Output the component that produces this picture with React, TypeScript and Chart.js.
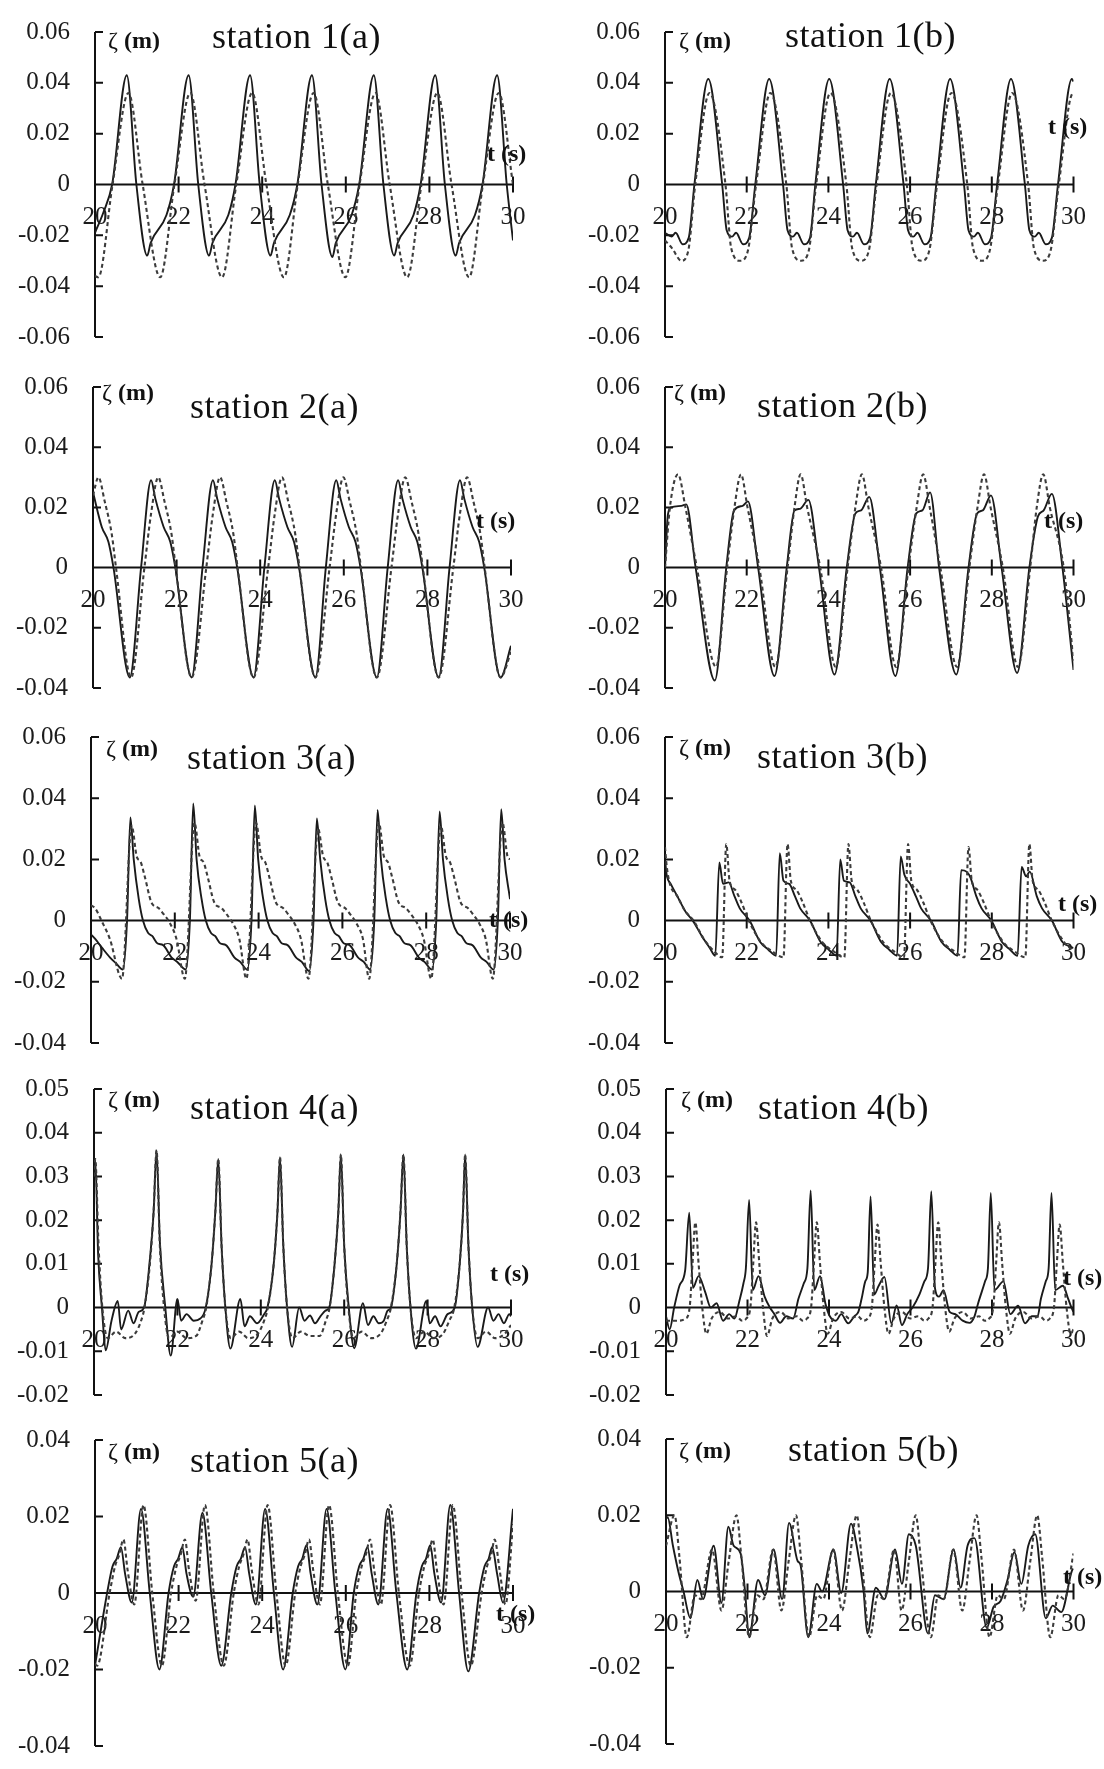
import React, { useEffect, useRef } from 'react';
import { Chart, registerables } from 'chart.js';
Chart.register(...registerables);

type Pt = [number, number];

// ---------- tick values ----------
const xTicks = [20, 22, 24, 26, 28, 30];
const yTicksRow1 = [-0.06, -0.04, -0.02, 0, 0.02, 0.04, 0.06];
const yTicksRow23 = [-0.04, -0.02, 0, 0.02, 0.04, 0.06];
const yTicksRow4 = [-0.02, -0.01, 0, 0.01, 0.02, 0.03, 0.04, 0.05];
const yTicksRow5 = [-0.04, -0.02, 0, 0.02, 0.04];

// ---------- station 1 ----------
const s1aSolid: Pt[] = [[20.0,-0.019],[20.2,-0.011],[20.41,0],[20.76,0.043],[20.99,0],[21.25,-0.028],[21.33,-0.023],[21.71,-0.012],[21.89,0],[22.24,0.043],[22.47,0],[22.73,-0.028],[22.81,-0.023],[23.19,-0.012],[23.36,0],[23.71,0.043],[23.94,0],[24.2,-0.028],[24.28,-0.023],[24.66,-0.012],[24.84,0],[25.19,0.043],[25.42,0],[25.68,-0.0285],[25.76,-0.023],[26.14,-0.012],[26.32,0],[26.67,0.043],[26.9,0],[27.16,-0.028],[27.24,-0.023],[27.62,-0.012],[27.79,0],[28.14,0.043],[28.37,0],[28.63,-0.028],[28.71,-0.023],[29.09,-0.012],[29.27,0],[29.62,0.043],[29.85,0],[30.0,-0.022]];
const s1aDashed: Pt[] = [[20.0,-0.036],[20.08,-0.0365],[20.42,0],[20.8,0.036],[21.14,0],[21.56,-0.0365],[21.9,0],[22.28,0.036],[22.62,0],[23.04,-0.0365],[23.38,0],[23.76,0.036],[24.1,0],[24.52,-0.0365],[24.85,0],[25.23,0.036],[25.57,0],[25.99,-0.0365],[26.33,0],[26.71,0.036],[27.05,0],[27.47,-0.0365],[27.81,0],[28.19,0.036],[28.53,0],[28.95,-0.0365],[29.28,0],[29.66,0.036],[30.0,0]];
const s1bSolid: Pt[] = [[20.0,-0.019],[20.16,-0.0205],[20.26,-0.019],[20.43,-0.0235],[20.58,-0.021],[20.72,0],[21.06,0.0415],[21.4,0],[21.51,-0.018],[21.64,-0.0205],[21.74,-0.019],[21.91,-0.0235],[22.06,-0.021],[22.21,0],[22.55,0.0415],[22.89,0],[23.0,-0.018],[23.13,-0.0205],[23.23,-0.019],[23.4,-0.0235],[23.55,-0.021],[23.68,0],[24.02,0.0415],[24.36,0],[24.47,-0.018],[24.6,-0.0205],[24.7,-0.019],[24.87,-0.0235],[25.02,-0.021],[25.16,0],[25.5,0.0415],[25.84,0],[25.95,-0.018],[26.08,-0.0205],[26.18,-0.019],[26.35,-0.0235],[26.5,-0.021],[26.64,0],[26.98,0.0415],[27.32,0],[27.43,-0.018],[27.56,-0.0205],[27.66,-0.019],[27.83,-0.0235],[27.98,-0.021],[28.13,0],[28.47,0.0415],[28.81,0],[28.92,-0.018],[29.05,-0.0205],[29.15,-0.019],[29.32,-0.0235],[29.47,-0.021],[29.62,0],[29.96,0.0415],[30.0,0.0405]];
const s1bDashed: Pt[] = [[20.0,-0.022],[20.17,-0.025],[20.4,-0.03],[20.57,-0.026],[20.74,0],[21.09,0.036],[21.48,0],[21.62,-0.025],[21.84,-0.03],[22.03,-0.026],[22.23,0],[22.58,0.036],[22.97,0],[23.11,-0.025],[23.33,-0.03],[23.52,-0.026],[23.7,0],[24.05,0.036],[24.44,0],[24.58,-0.025],[24.8,-0.03],[24.99,-0.026],[25.18,0],[25.53,0.036],[25.92,0],[26.06,-0.025],[26.28,-0.03],[26.47,-0.026],[26.66,0],[27.01,0.036],[27.4,0],[27.54,-0.025],[27.76,-0.03],[27.95,-0.026],[28.15,0],[28.5,0.036],[28.89,0],[29.03,-0.025],[29.25,-0.03],[29.44,-0.026],[29.64,0],[29.99,0.036],[30.0,0.036]];

// ---------- station 2 ----------
const s2aSolid: Pt[] = [[20.0,0.025],[20.21,0.0135],[20.37,0.0085],[20.49,0],[20.88,-0.0365],[21.15,0],[21.39,0.029],[21.49,0.023],[21.69,0.0135],[21.85,0.0085],[21.97,0],[22.36,-0.0365],[22.62,0],[22.87,0.029],[22.97,0.023],[23.17,0.0135],[23.33,0.0085],[23.45,0],[23.84,-0.0365],[24.1,0],[24.35,0.029],[24.45,0.023],[24.65,0.0135],[24.81,0.0085],[24.93,0],[25.32,-0.0365],[25.57,0],[25.82,0.029],[25.92,0.023],[26.12,0.0135],[26.28,0.0085],[26.4,0],[26.79,-0.0365],[27.05,0],[27.3,0.029],[27.4,0.023],[27.6,0.0135],[27.76,0.0085],[27.88,0],[28.27,-0.0365],[28.53,0],[28.78,0.029],[28.88,0.023],[29.08,0.0135],[29.24,0.0085],[29.36,0],[29.75,-0.0365],[30.0,-0.026]];
const s2aDashed: Pt[] = [[20.0,0.024],[20.13,0.03],[20.28,0.022],[20.45,0.011],[20.55,0],[20.91,-0.0365],[21.23,0],[21.39,0.018],[21.56,0.03],[21.71,0.022],[21.88,0.011],[21.98,0],[22.36,-0.0365],[22.71,0],[22.87,0.018],[23.04,0.03],[23.19,0.022],[23.36,0.011],[23.46,0],[23.84,-0.0365],[24.19,0],[24.35,0.018],[24.52,0.03],[24.67,0.022],[24.84,0.011],[24.94,0],[25.32,-0.0365],[25.66,0],[25.82,0.018],[25.99,0.03],[26.14,0.022],[26.31,0.011],[26.41,0],[26.79,-0.0365],[27.14,0],[27.3,0.018],[27.47,0.03],[27.62,0.022],[27.79,0.011],[27.89,0],[28.27,-0.0365],[28.62,0],[28.78,0.018],[28.95,0.03],[29.1,0.022],[29.27,0.011],[29.37,0],[29.75,-0.0365],[30.0,-0.028]];
const s2bSolid: Pt[] = [[20.0,0],[20.07,0.0175],[20.15,0.02],[20.4,0.0205],[20.52,0.021],[20.75,0],[21.22,-0.0375],[21.5,0],[21.69,0.019],[21.9,0.0205],[22.03,0.022],[22.28,0],[22.68,-0.036],[22.98,0],[23.17,0.019],[23.3,0.0195],[23.51,0.0225],[23.77,0],[24.15,-0.0355],[24.45,0],[24.66,0.018],[24.8,0.019],[25.0,0.0235],[25.26,0],[25.64,-0.036],[25.94,0],[26.15,0.018],[26.3,0.019],[26.49,0.025],[26.71,0],[27.13,-0.0355],[27.43,0],[27.64,0.018],[27.78,0.019],[27.98,0.024],[28.24,0],[28.62,-0.035],[28.92,0],[29.13,0.017],[29.27,0.019],[29.47,0.0245],[29.73,0],[30.0,-0.034]];
const s2bDashed: Pt[] = [[20.0,0],[20.12,0.02],[20.32,0.031],[20.5,0.02],[20.78,0],[21.25,-0.033],[21.52,0],[21.7,0.02],[21.86,0.031],[22.02,0.02],[22.31,0],[22.7,-0.033],[23.0,0],[23.17,0.02],[23.32,0.031],[23.48,0.02],[23.8,0],[24.18,-0.033],[24.47,0],[24.66,0.02],[24.82,0.031],[24.98,0.02],[25.29,0],[25.66,-0.033],[25.96,0],[26.16,0.02],[26.32,0.031],[26.48,0.02],[26.74,0],[27.15,-0.033],[27.45,0],[27.65,0.02],[27.81,0.031],[27.97,0.02],[28.27,0],[28.64,-0.033],[28.94,0],[29.1,0.02],[29.26,0.031],[29.42,0.02],[29.76,0],[30.0,-0.031]];

// ---------- station 3 ----------
const s3aSolid: Pt[] = [[20.0,-0.0045],[20.1,-0.006],[20.27,-0.009],[20.45,-0.012],[20.6,-0.014],[20.76,-0.016],[20.86,0],[20.94,0.0337],[21.02,0.02],[21.14,0.007],[21.24,0],[21.36,-0.004],[21.46,-0.005],[21.59,-0.0075],[21.72,-0.008],[21.92,-0.012],[22.06,-0.0135],[22.26,-0.016],[22.36,0],[22.44,0.0383],[22.52,0.02],[22.64,0.007],[22.74,0],[22.86,-0.004],[22.96,-0.005],[23.09,-0.0075],[23.22,-0.008],[23.42,-0.012],[23.56,-0.0135],[23.73,-0.016],[23.83,0],[23.91,0.0376],[23.99,0.02],[24.11,0.007],[24.21,0],[24.33,-0.004],[24.43,-0.005],[24.56,-0.0075],[24.69,-0.008],[24.89,-0.012],[25.03,-0.0135],[25.21,-0.0165],[25.31,0],[25.39,0.0334],[25.47,0.02],[25.59,0.007],[25.69,0],[25.81,-0.004],[25.91,-0.005],[26.04,-0.0075],[26.17,-0.008],[26.37,-0.012],[26.51,-0.0135],[26.66,-0.016],[26.76,0],[26.84,0.0362],[26.92,0.02],[27.04,0.007],[27.14,0],[27.26,-0.004],[27.36,-0.005],[27.49,-0.0075],[27.62,-0.008],[27.82,-0.012],[27.96,-0.0135],[28.14,-0.016],[28.24,0],[28.32,0.0357],[28.4,0.02],[28.52,0.007],[28.62,0],[28.74,-0.004],[28.84,-0.005],[28.97,-0.0075],[29.1,-0.008],[29.3,-0.012],[29.44,-0.0135],[29.61,-0.016],[29.71,0],[29.79,0.0364],[29.87,0.02],[29.99,0.008],[30.0,0.007]];
const s3aDashed: Pt[] = [[20.0,0.005],[20.1,0.004],[20.25,0],[20.45,-0.006],[20.74,-0.019],[20.97,0.031],[21.09,0.021],[21.19,0.019],[21.29,0.014],[21.44,0.006],[21.62,0.004],[21.74,0.002],[21.89,-0.001],[22.04,-0.006],[22.24,-0.019],[22.47,0.032],[22.59,0.021],[22.69,0.019],[22.79,0.014],[22.94,0.006],[23.12,0.004],[23.24,0.002],[23.39,-0.001],[23.54,-0.006],[23.71,-0.019],[23.94,0.032],[24.06,0.021],[24.16,0.019],[24.26,0.014],[24.41,0.006],[24.59,0.004],[24.71,0.002],[24.86,-0.001],[25.01,-0.006],[25.19,-0.019],[25.42,0.03],[25.54,0.021],[25.64,0.019],[25.74,0.014],[25.89,0.006],[26.07,0.004],[26.19,0.002],[26.34,-0.001],[26.49,-0.006],[26.64,-0.019],[26.87,0.032],[26.99,0.021],[27.09,0.019],[27.19,0.014],[27.34,0.006],[27.52,0.004],[27.64,0.002],[27.79,-0.001],[27.94,-0.006],[28.12,-0.019],[28.35,0.031],[28.47,0.021],[28.57,0.019],[28.67,0.014],[28.82,0.006],[29.0,0.004],[29.12,0.002],[29.27,-0.001],[29.42,-0.006],[29.59,-0.019],[29.82,0.032],[29.94,0.021],[30.0,0.02]];
const s3bSolid: Pt[] = [[20.0,0.02],[20.04,0.015],[20.14,0.012],[20.3,0.008],[20.5,0.003],[20.68,0],[20.9,-0.005],[21.1,-0.009],[21.23,-0.0115],[21.33,0.019],[21.42,0.012],[21.56,0.0125],[21.7,0.008],[21.83,0.004],[22.07,0],[22.33,-0.007],[22.53,-0.0095],[22.72,-0.0115],[22.81,0.022],[22.9,0.013],[23.04,0.012],[23.18,0.008],[23.31,0.004],[23.55,0],[23.81,-0.007],[24.01,-0.0095],[24.2,-0.0115],[24.29,0.02],[24.38,0.013],[24.52,0.0125],[24.66,0.008],[24.79,0.004],[25.03,0],[25.29,-0.007],[25.49,-0.0095],[25.68,-0.0115],[25.77,0.021],[25.86,0.015],[26.0,0.012],[26.14,0.008],[26.27,0.004],[26.51,0],[26.77,-0.007],[26.97,-0.0095],[27.16,-0.0115],[27.25,0.0165],[27.38,0.016],[27.48,0.014],[27.62,0.008],[27.75,0.004],[27.99,0],[28.25,-0.007],[28.45,-0.0095],[28.63,-0.0115],[28.73,0.0175],[28.84,0.0145],[28.93,0.016],[29.1,0.008],[29.23,0.004],[29.47,0],[29.73,-0.007],[30.0,-0.009]];
const s3bDashed: Pt[] = [[20.0,0.024],[20.04,0.018],[20.12,0.012],[20.3,0.008],[20.5,0.003],[20.7,0],[20.95,-0.006],[21.2,-0.01],[21.4,-0.012],[21.5,0.025],[21.58,0.013],[21.72,0.01],[21.87,0.006],[22.05,0],[22.35,-0.007],[22.62,-0.01],[22.9,-0.012],[23.0,0.025],[23.08,0.013],[23.22,0.01],[23.37,0.006],[23.55,0],[23.85,-0.007],[24.12,-0.01],[24.39,-0.012],[24.49,0.025],[24.57,0.013],[24.71,0.01],[24.86,0.006],[25.04,0],[25.34,-0.007],[25.6,-0.01],[25.85,-0.012],[25.95,0.025],[26.03,0.013],[26.17,0.01],[26.32,0.006],[26.5,0],[26.8,-0.007],[27.08,-0.01],[27.33,-0.012],[27.43,0.024],[27.51,0.013],[27.65,0.01],[27.8,0.006],[27.98,0],[28.28,-0.007],[28.55,-0.01],[28.82,-0.012],[28.92,0.025],[29.0,0.013],[29.14,0.01],[29.29,0.006],[29.47,0],[29.77,-0.007],[30.0,-0.01]];

// ---------- station 4 ----------
const s4aSolid: Pt[] = [[20.0,0.03],[20.03,0.034],[20.1,0.012],[20.19,0],[20.28,-0.0098],[20.42,-0.003],[20.57,0.0015],[20.65,-0.005],[20.82,-0.0007],[20.95,-0.0036],[21.07,-0.001],[21.2,0],[21.33,0.01],[21.43,0.022],[21.5,0.036],[21.58,0.015],[21.71,0],[21.84,-0.011],[22.0,0.002],[22.09,-0.003],[22.22,-0.0015],[22.39,-0.003],[22.55,-0.0025],[22.68,0],[22.82,0.01],[22.91,0.022],[22.98,0.034],[23.06,0.014],[23.15,0],[23.27,-0.0094],[23.51,0.002],[23.61,-0.0043],[23.74,-0.002],[23.91,-0.0036],[24.08,-0.0015],[24.16,0],[24.31,0.01],[24.4,0.022],[24.46,0.0344],[24.54,0.014],[24.63,0],[24.75,-0.009],[24.92,0],[25.05,-0.003],[25.18,-0.0018],[25.3,-0.0036],[25.43,-0.002],[25.55,-0.0007],[25.64,0],[25.77,0.01],[25.86,0.022],[25.92,0.035],[26.0,0.014],[26.11,0],[26.24,-0.0093],[26.45,0.001],[26.57,-0.004],[26.7,-0.002],[26.83,-0.0036],[26.95,-0.003],[27.04,-0.0007],[27.12,0],[27.26,0.01],[27.35,0.022],[27.42,0.035],[27.5,0.014],[27.59,0],[27.72,-0.0094],[27.97,0.0015],[28.05,-0.0036],[28.18,-0.002],[28.31,-0.0043],[28.48,-0.0015],[28.65,0],[28.77,0.01],[28.85,0.022],[28.9,0.035],[28.98,0.014],[29.07,0],[29.2,-0.009],[29.45,0],[29.58,-0.003],[29.7,-0.0015],[29.83,-0.0036],[29.96,-0.0015],[30.0,-0.002]];
const s4aDashed: Pt[] = [[20.0,0.03],[20.03,0.034],[20.11,0.014],[20.2,0],[20.33,-0.007],[20.53,-0.0055],[20.75,-0.007],[20.98,-0.006],[21.13,-0.003],[21.21,0],[21.34,0.01],[21.43,0.022],[21.5,0.036],[21.58,0.014],[21.68,0],[21.8,-0.007],[22.0,-0.0055],[22.22,-0.007],[22.45,-0.0065],[22.6,-0.003],[22.69,0],[22.82,0.01],[22.91,0.022],[22.98,0.034],[23.06,0.014],[23.15,0],[23.28,-0.007],[23.48,-0.0055],[23.7,-0.007],[23.93,-0.006],[24.08,-0.003],[24.17,0],[24.31,0.01],[24.4,0.022],[24.46,0.0344],[24.54,0.014],[24.63,0],[24.76,-0.007],[24.96,-0.0055],[25.18,-0.0065],[25.41,-0.0065],[25.56,-0.003],[25.65,0],[25.77,0.01],[25.86,0.022],[25.92,0.035],[26.0,0.014],[26.1,0],[26.22,-0.007],[26.42,-0.0055],[26.64,-0.007],[26.87,-0.006],[27.02,-0.003],[27.12,0],[27.26,0.01],[27.35,0.022],[27.42,0.035],[27.5,0.014],[27.59,0],[27.72,-0.007],[27.92,-0.0055],[28.14,-0.007],[28.37,-0.006],[28.52,-0.003],[28.64,0],[28.77,0.01],[28.85,0.022],[28.9,0.035],[28.98,0.014],[29.07,0],[29.2,-0.007],[29.4,-0.0055],[29.62,-0.007],[29.85,-0.006],[30.0,-0.004]];
const s4bSolid: Pt[] = [[20.0,-0.002],[20.09,-0.005],[20.2,0],[20.33,0.005],[20.47,0.0085],[20.57,0.0217],[20.66,0.0045],[20.8,0.0072],[20.96,0.0036],[21.1,0],[21.24,0.001],[21.4,-0.003],[21.55,-0.0015],[21.68,-0.0025],[21.8,0.0015],[21.9,0.0055],[21.96,0.009],[22.04,0.0246],[22.13,0.004],[22.27,0.0072],[22.42,0.0025],[22.55,0],[22.66,-0.0015],[22.8,-0.0035],[22.95,-0.002],[23.12,-0.0025],[23.25,0.002],[23.38,0.0055],[23.47,0.009],[23.55,0.0268],[23.64,0.004],[23.78,0.0072],[23.91,0.001],[24.02,-0.002],[24.17,-0.003],[24.3,-0.0015],[24.47,-0.0036],[24.62,-0.002],[24.72,-0.001],[24.8,0.002],[24.89,0.006],[24.95,0.008],[25.02,0.0254],[25.11,0.003],[25.22,0.005],[25.36,0.007],[25.53,-0.0036],[25.66,0.0005],[25.79,-0.004],[25.92,-0.0015],[26.05,0],[26.22,0.003],[26.34,0.006],[26.43,0.009],[26.51,0.0266],[26.6,0.0045],[26.7,0.0025],[26.81,0.004],[26.96,-0.001],[27.1,-0.0015],[27.28,-0.003],[27.45,-0.0035],[27.57,-0.002],[27.66,0.001],[27.83,0.006],[27.9,0.009],[27.97,0.0262],[28.06,0.004],[28.28,0.006],[28.45,-0.0015],[28.64,0.0004],[28.81,-0.0036],[28.98,-0.002],[29.12,-0.002],[29.2,0.002],[29.32,0.006],[29.39,0.009],[29.46,0.0262],[29.55,0.004],[29.74,0.005],[29.87,0.002],[29.95,0],[30.0,-0.001]];
const s4bDashed: Pt[] = [[20.0,-0.003],[20.3,-0.003],[20.48,-0.0025],[20.58,0],[20.65,0.01],[20.72,0.0195],[20.8,0.01],[20.89,0],[20.99,-0.006],[21.12,-0.0025],[21.32,-0.001],[21.52,-0.0025],[21.72,-0.002],[21.87,-0.003],[21.97,-0.0025],[22.07,0],[22.14,0.01],[22.21,0.0195],[22.29,0.01],[22.38,0],[22.48,-0.0065],[22.61,-0.0025],[22.81,-0.001],[23.01,-0.0025],[23.21,-0.002],[23.36,-0.003],[23.46,-0.0025],[23.56,0],[23.63,0.01],[23.7,0.0195],[23.78,0.01],[23.87,0],[23.97,-0.006],[24.1,-0.0025],[24.3,-0.001],[24.5,-0.0025],[24.7,-0.002],[24.85,-0.003],[24.95,-0.0025],[25.05,0],[25.12,0.01],[25.19,0.019],[25.27,0.01],[25.36,0],[25.46,-0.006],[25.59,-0.0025],[25.79,-0.001],[25.99,-0.0025],[26.19,-0.002],[26.34,-0.003],[26.44,-0.0025],[26.54,0],[26.61,0.01],[26.68,0.0195],[26.76,0.01],[26.85,0],[26.95,-0.0055],[27.08,-0.0025],[27.28,-0.001],[27.48,-0.0025],[27.68,-0.002],[27.83,-0.003],[27.93,-0.0025],[28.03,0],[28.1,0.01],[28.17,0.0195],[28.25,0.01],[28.34,0],[28.44,-0.006],[28.57,-0.0025],[28.77,-0.001],[28.97,-0.0025],[29.17,-0.002],[29.32,-0.003],[29.42,-0.0025],[29.52,0],[29.59,0.01],[29.66,0.019],[29.74,0.01],[29.83,0],[29.93,-0.006],[30.0,-0.005]];

// ---------- station 5 ----------
const s5aSolid: Pt[] = [[20.0,-0.019],[20.29,0],[20.42,0.007],[20.52,0.009],[20.62,0.012],[20.72,0.005],[20.88,-0.0025],[21.1,0.022],[21.31,0],[21.54,-0.02],[21.76,0],[21.89,0.007],[21.99,0.009],[22.09,0.012],[22.19,0.005],[22.35,-0.001],[22.57,0.021],[22.78,0],[23.02,-0.019],[23.26,0],[23.39,0.007],[23.49,0.009],[23.59,0.012],[23.69,0.005],[23.85,-0.003],[24.07,0.022],[24.28,0],[24.5,-0.02],[24.73,0],[24.86,0.007],[24.96,0.009],[25.06,0.0125],[25.16,0.005],[25.32,-0.003],[25.54,0.022],[25.75,0],[25.99,-0.02],[26.19,0],[26.32,0.007],[26.42,0.009],[26.52,0.012],[26.62,0.005],[26.78,-0.003],[27.0,0.022],[27.21,0],[27.47,-0.02],[27.69,0],[27.82,0.007],[27.92,0.009],[28.02,0.0125],[28.12,0.005],[28.28,-0.0025],[28.5,0.023],[28.71,0],[28.93,-0.0205],[29.19,0],[29.32,0.007],[29.42,0.009],[29.5,0.012],[29.62,0.005],[29.76,-0.0025],[30.0,0.022]];
const s5aDashed: Pt[] = [[20.0,-0.0185],[20.05,-0.019],[20.35,0],[20.48,0.007],[20.58,0.01],[20.68,0.014],[20.78,0.006],[20.94,-0.003],[21.16,0.023],[21.37,0],[21.6,-0.019],[21.82,0],[21.95,0.007],[22.05,0.01],[22.15,0.014],[22.25,0.006],[22.41,-0.002],[22.63,0.023],[22.84,0],[23.08,-0.019],[23.32,0],[23.45,0.007],[23.55,0.01],[23.65,0.014],[23.75,0.006],[23.91,-0.003],[24.13,0.023],[24.34,0],[24.56,-0.019],[24.79,0],[24.92,0.007],[25.02,0.01],[25.12,0.014],[25.22,0.006],[25.38,-0.003],[25.6,0.023],[25.81,0],[26.05,-0.019],[26.25,0],[26.38,0.007],[26.48,0.01],[26.58,0.014],[26.68,0.006],[26.84,-0.003],[27.06,0.023],[27.27,0],[27.53,-0.019],[27.75,0],[27.88,0.007],[27.98,0.01],[28.08,0.014],[28.18,0.006],[28.34,-0.003],[28.56,0.023],[28.77,0],[28.99,-0.019],[29.25,0],[29.38,0.007],[29.48,0.01],[29.56,0.014],[29.68,0.006],[29.82,-0.003],[30.0,0.018]];
const s5bSolid: Pt[] = [[20.0,0.019],[20.04,0.0195],[20.17,0.012],[20.3,0.0054],[20.43,0],[20.6,-0.007],[20.77,0.003],[20.91,-0.002],[21.17,0.012],[21.36,-0.003],[21.53,0.017],[21.66,0.012],[21.83,0.01],[21.94,0],[22.04,-0.012],[22.26,0.003],[22.43,-0.001],[22.64,0.011],[22.85,-0.002],[23.02,0.018],[23.23,0.008],[23.3,0.007],[23.49,-0.012],[23.7,0.002],[23.83,0],[24.11,0.011],[24.3,-0.0004],[24.54,0.0178],[24.68,0.012],[24.85,0],[24.94,-0.011],[25.15,0.001],[25.36,-0.002],[25.62,0.011],[25.79,0.002],[25.96,0.015],[26.13,0.012],[26.43,-0.011],[26.6,-0.001],[26.81,-0.002],[27.06,0.011],[27.23,0.001],[27.4,0.012],[27.57,0.014],[27.87,-0.0095],[28.04,-0.004],[28.21,-0.0025],[28.38,0.003],[28.55,0.0103],[28.72,0.002],[28.89,0.012],[29.06,0.015],[29.32,-0.007],[29.49,-0.0037],[29.7,-0.0054],[29.96,0.0054],[30.0,0.006]];
const s5bDashed: Pt[] = [[20.0,0.012],[20.21,0.02],[20.33,0.009],[20.51,-0.012],[20.71,-0.001],[20.86,-0.002],[21.13,0.011],[21.36,-0.005],[21.54,0.008],[21.73,0.02],[21.85,0.009],[22.04,-0.012],[22.24,-0.001],[22.39,-0.002],[22.63,0.011],[22.83,-0.005],[23.01,0.008],[23.19,0.02],[23.31,0.009],[23.51,-0.012],[23.71,-0.001],[23.86,-0.002],[24.1,0.011],[24.32,-0.005],[24.5,0.008],[24.68,0.02],[24.8,0.009],[25.0,-0.012],[25.2,-0.001],[25.35,-0.002],[25.6,0.011],[25.78,-0.005],[25.96,0.008],[26.13,0.02],[26.25,0.009],[26.5,-0.012],[26.68,-0.001],[26.82,-0.002],[27.05,0.011],[27.27,-0.005],[27.45,0.008],[27.62,0.02],[27.74,0.009],[27.94,-0.012],[28.14,-0.001],[28.29,-0.002],[28.54,0.011],[28.76,-0.005],[28.94,0.008],[29.11,0.02],[29.23,0.009],[29.43,-0.012],[29.63,-0.001],[29.78,-0.002],[30.0,0.01]];

// ---------- panel layout (pixels) ----------
const panels = [
  { title: 'station 1(a)', solid: s1aSolid, dashed: s1aDashed, yTicks: yTicksRow1, col: 0, axisX: 95, axisRight: 513, axisTop: 22, axisBottom: 347, titleDx: 117, titleCy: 17, zetaDx: 13, zetaCy: 20, tDx: -26, tCy: -29 },
  { title: 'station 1(b)', solid: s1bSolid, dashed: s1bDashed, yTicks: yTicksRow1, col: 1, axisX: 665, axisRight: 1080, axisTop: 22, axisBottom: 347, titleDx: 120, titleCy: 16, zetaDx: 14, zetaCy: 20, tDx: -32, tCy: -56 },
  { title: 'station 2(a)', solid: s2aSolid, dashed: s2aDashed, yTicks: yTicksRow23, col: 0, axisX: 93, axisRight: 511, axisTop: 377, axisBottom: 698, titleDx: 97, titleCy: 32, zetaDx: 9, zetaCy: 17, tDx: -35, tCy: -47 },
  { title: 'station 2(b)', solid: s2bSolid, dashed: s2bDashed, yTicks: yTicksRow23, col: 1, axisX: 665, axisRight: 1080, axisTop: 377, axisBottom: 698, titleDx: 92, titleCy: 31, zetaDx: 9, zetaCy: 17, tDx: -36, tCy: -47 },
  { title: 'station 3(a)', solid: s3aSolid, dashed: s3aDashed, yTicks: yTicksRow23, col: 0, axisX: 91, axisRight: 510, axisTop: 727, axisBottom: 1053, titleDx: 96, titleCy: 33, zetaDx: 15, zetaCy: 23, tDx: -21, tCy: -1 },
  { title: 'station 3(b)', solid: s3bSolid, dashed: s3bDashed, yTicks: yTicksRow23, col: 1, axisX: 665, axisRight: 1080, axisTop: 727, axisBottom: 1053, titleDx: 92, titleCy: 32, zetaDx: 14, zetaCy: 22, tDx: -22, tCy: -17 },
  { title: 'station 4(a)', solid: s4aSolid, dashed: s4aDashed, yTicks: yTicksRow4, col: 0, axisX: 94, axisRight: 511, axisTop: 1079, axisBottom: 1405, titleDx: 96, titleCy: 31, zetaDx: 14, zetaCy: 22, tDx: -21, tCy: -37 },
  { title: 'station 4(b)', solid: s4bSolid, dashed: s4bDashed, yTicks: yTicksRow4, col: 1, axisX: 666, axisRight: 1081, axisTop: 1079, axisBottom: 1405, titleDx: 92, titleCy: 31, zetaDx: 15, zetaCy: 22, tDx: -18, tCy: -33 },
  { title: 'station 5(a)', solid: s5aSolid, dashed: s5aDashed, yTicks: yTicksRow5, col: 0, axisX: 95, axisRight: 513, axisTop: 1430, axisBottom: 1756, titleDx: 95, titleCy: 33, zetaDx: 13, zetaCy: 23, tDx: -17, tCy: 22 },
  { title: 'station 5(b)', solid: s5bSolid, dashed: s5bDashed, yTicks: yTicksRow5, col: 1, axisX: 666, axisRight: 1081, axisTop: 1429, axisBottom: 1754, titleDx: 122, titleCy: 23, zetaDx: 13, zetaCy: 23, tDx: -18, tCy: -13 },
];

const FONT = "'Liberation Serif', 'Times New Roman', Times, serif";
const COL_W = 552;
const PAD_V = 30;

const fmt = (v: number) => (Math.abs(v) < 1e-9 ? '0' : String(Number(v.toFixed(3))));

const axesPlugin = {
  id: 'paperAxes',
  beforeDatasetsDraw(chart: any) {
    const { ctx } = chart;
    const xs = chart.scales.x;
    const ys = chart.scales.y;
    const x0 = xs.getPixelForValue(xs.min);
    const x1 = xs.getPixelForValue(xs.max);
    const yTop = ys.getPixelForValue(ys.max);
    const yBot = ys.getPixelForValue(ys.min);
    const y0 = ys.getPixelForValue(0);
    ctx.save();
    ctx.strokeStyle = '#111';
    ctx.lineWidth = 2;
    ctx.beginPath();
    ctx.moveTo(x0, yTop);
    ctx.lineTo(x0, yBot);
    ctx.moveTo(x0, y0);
    ctx.lineTo(x1, y0);
    ys.ticks.forEach((t: any) => {
      const py = ys.getPixelForValue(t.value);
      ctx.moveTo(x0, py);
      ctx.lineTo(x0 + 8, py);
    });
    xs.ticks.forEach((t: any) => {
      const px = xs.getPixelForValue(t.value);
      ctx.moveTo(px, y0 - 8);
      ctx.lineTo(px, y0 + 8);
    });
    ctx.stroke();
    ctx.restore();
  },
};

function Panel({ p }: { p: any }) {
  const ref = useRef<HTMLCanvasElement>(null);
  const colX = p.col * COL_W;
  const canvasTop = p.axisTop - PAD_V;
  const canvasH = p.axisBottom - p.axisTop + 2 * PAD_V;
  const yMin = p.yTicks[0];
  const yMax = p.yTicks[p.yTicks.length - 1];

  useEffect(() => {
    const toXY = (pts: Pt[]) => pts.map(([x, y]) => ({ x, y }));
    const chart = new Chart(ref.current as HTMLCanvasElement, {
      type: 'line',
      data: {
        datasets: [
          { data: toXY(p.dashed), borderColor: '#3c3c3c', borderWidth: 2.1, borderDash: [4, 3], pointRadius: 0, cubicInterpolationMode: 'monotone', fill: false },
          { data: toXY(p.solid), borderColor: '#1a1a1a', borderWidth: 1.9, pointRadius: 0, cubicInterpolationMode: 'monotone', fill: false },
        ],
      } as any,
      options: {
        animation: false,
        responsive: false,
        devicePixelRatio: 1,
        layout: { padding: { left: 0, top: PAD_V, bottom: PAD_V, right: COL_W - (p.axisRight - colX) } },
        plugins: { legend: { display: false }, tooltip: { enabled: false }, title: { display: false } },
        scales: {
          x: {
            type: 'linear',
            min: 20,
            max: 30,
            position: { y: 0 },
            afterBuildTicks: (s: any) => { s.ticks = xTicks.map((v) => ({ value: v })); },
            grid: { display: false, drawTicks: false },
            border: { display: false },
            ticks: { font: { family: FONT, size: 25 }, color: '#1b1b1b', padding: 18, maxRotation: 0, autoSkip: false, callback: (v: any) => String(v) },
          },
          y: {
            type: 'linear',
            min: yMin,
            max: yMax,
            afterBuildTicks: (s: any) => { s.ticks = p.yTicks.map((v: number) => ({ value: v })); },
            afterFit: (s: any) => { s.width = p.axisX - colX; },
            grid: { display: false, drawTicks: false },
            border: { display: false },
            ticks: { font: { family: FONT, size: 25 }, color: '#1b1b1b', padding: 25, autoSkip: false, callback: (v: any) => fmt(Number(v)) },
          },
        },
      } as any,
      plugins: [axesPlugin],
    });
    return () => chart.destroy();
  }, []);

  const zeroY = p.axisTop + (yMax / (yMax - yMin)) * (p.axisBottom - p.axisTop);
  const titleFs = 36;
  const labFs = 24;

  return (
    <>
      <canvas
        ref={ref}
        width={COL_W}
        height={canvasH}
        style={{ position: 'absolute', left: colX, top: canvasTop, width: COL_W, height: canvasH }}
      />
      <div style={{ position: 'absolute', left: p.axisX + p.titleDx, top: p.axisTop + p.titleCy - 0.59 * titleFs, fontFamily: FONT, fontSize: titleFs, lineHeight: `${titleFs}px`, color: '#111', whiteSpace: 'nowrap', letterSpacing: '0.5px' }}>
        {p.title}
      </div>
      <div style={{ position: 'absolute', left: p.axisX + p.zetaDx, top: p.axisTop + p.zetaCy - 0.59 * labFs, fontFamily: FONT, fontSize: labFs, lineHeight: `${labFs}px`, color: '#111', whiteSpace: 'nowrap' }}>
        ζ <b>(m)</b>
      </div>
      <div style={{ position: 'absolute', left: p.axisRight + p.tDx, top: zeroY + p.tCy - 0.59 * labFs, fontFamily: FONT, fontSize: labFs, lineHeight: `${labFs}px`, fontWeight: 'bold', color: '#111', whiteSpace: 'nowrap' }}>
        t (s)
      </div>
    </>
  );
}

export default function App() {
  return (
    <div style={{ position: 'absolute', left: 0, top: 0, width: 1104, height: 1769, overflow: 'hidden', background: '#fff' }}>
      {panels.map((p, i) => (
        <Panel key={i} p={p} />
      ))}
    </div>
  );
}
